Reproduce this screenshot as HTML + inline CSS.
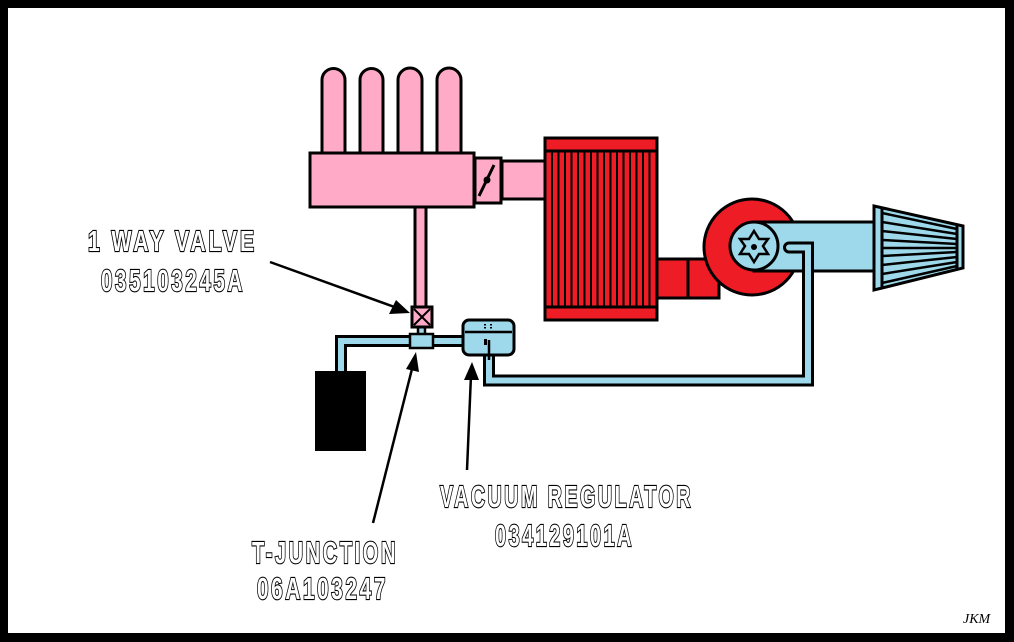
<!DOCTYPE html>
<html><head><meta charset="utf-8"><style>
html,body{margin:0;padding:0;background:#000;}
svg{display:block;}
text{font-family:"Liberation Sans",sans-serif;font-weight:bold;fill:#fff;stroke:#000;stroke-width:2.2;paint-order:stroke;letter-spacing:4px;}
</style></head><body>
<svg width="1014" height="642" viewBox="0 0 1014 642" xmlns="http://www.w3.org/2000/svg">
<rect x="0" y="0" width="1014" height="642" fill="#000"/>
<rect x="8" y="8" width="997" height="625" fill="#fff"/>
<g stroke="#000" stroke-width="3">
<path d="M322,153 V80 a11.5,11.5 0 0 1 23,0 V153 Z" fill="#ffabc8"/>
<path d="M360,153 V80 a11.5,11.5 0 0 1 23,0 V153 Z" fill="#ffabc8"/>
<path d="M398,153 V80 a12,12 0 0 1 24,0 V153 Z" fill="#ffabc8"/>
<path d="M437,153 V80 a12,12 0 0 1 24,0 V153 Z" fill="#ffabc8"/>
<rect x="310" y="153" width="164" height="54" fill="#ffabc8"/>
<rect x="475" y="158" width="26" height="45" fill="#ffabc8"/>
<rect x="502" y="161" width="43" height="38" fill="#ffabc8"/>
<rect x="415" y="207" width="11" height="100" fill="#ffabc8"/>
<rect x="657" y="259" width="62" height="39" fill="#ee1c25"/>
<line x1="688" y1="259" x2="688" y2="298"/>
<rect x="545" y="138" width="112" height="182" fill="#ee1c25"/>
<line x1="545" y1="151" x2="657" y2="151"/>
<line x1="545" y1="307" x2="657" y2="307"/>
</g>
<g fill="#000">
<rect x="551" y="151" width="2" height="156"/><rect x="557.5" y="151" width="2" height="156"/><rect x="564" y="151" width="2" height="156"/><rect x="570.5" y="151" width="2" height="156"/><rect x="577" y="151" width="2" height="156"/><rect x="583.5" y="151" width="2" height="156"/><rect x="590" y="151" width="2" height="156"/><rect x="596.5" y="151" width="2" height="156"/><rect x="603" y="151" width="2" height="156"/><rect x="609.5" y="151" width="2" height="156"/><rect x="616" y="151" width="2" height="156"/><rect x="622.5" y="151" width="2" height="156"/><rect x="629" y="151" width="2" height="156"/><rect x="635.5" y="151" width="2" height="156"/><rect x="642" y="151" width="2" height="156"/><rect x="648.5" y="151" width="2" height="156"/>
</g>
<line x1="479" y1="196" x2="494" y2="165" stroke="#000" stroke-width="3"/>
<circle cx="487" cy="180" r="3.5" fill="#000"/>
<g stroke="#000" stroke-width="3">
<circle cx="752" cy="247" r="48" fill="#ee1c25"/>
<path d="M754,222 H875 V271 H754 Z" fill="#9dd9ea"/>
<circle cx="754" cy="246" r="24" fill="#9dd9ea"/>
<path d="M874,206 L963,226 V268 L874,290 Z" fill="#9dd9ea"/>
<line x1="882" y1="208" x2="882" y2="288"/>
<line x1="957" y1="225" x2="957" y2="270"/>
</g>
<g stroke="#000" stroke-width="2.5">
<line x1="882" y1="213" x2="957" y2="229"/><line x1="882" y1="222" x2="957" y2="234"/><line x1="882" y1="231" x2="957" y2="239"/><line x1="882" y1="240" x2="957" y2="244"/><line x1="882" y1="248" x2="957" y2="248"/><line x1="882" y1="256" x2="957" y2="252"/><line x1="882" y1="265" x2="957" y2="257"/><line x1="882" y1="274" x2="957" y2="262"/><line x1="882" y1="283" x2="957" y2="266"/>
</g>
<polygon points="754,231 759,239 768,239 763,246 768,254 759,254 754,262 749,254 740,254 745,246 740,239 749,239" fill="#9dd9ea" stroke="#000" stroke-width="2.5"/>
<circle cx="754" cy="247" r="3" fill="#000"/>
<path d="M789,247.5 H808 V380.5 H489 V345" fill="none" stroke="#000" stroke-width="12" stroke-linecap="round"/>
<path d="M789,247.5 H808 V380.5 H489 V345" fill="none" stroke="#9dd9ea" stroke-width="6" stroke-linecap="round"/>
<path d="M341,372 V341 H470" fill="none" stroke="#000" stroke-width="12"/>
<path d="M341,373 V341 H470" fill="none" stroke="#9dd9ea" stroke-width="6"/>
<rect x="418" y="326" width="7" height="10" fill="#9dd9ea" stroke="#000" stroke-width="2.5"/>
<rect x="410" y="334" width="23" height="14" fill="#9dd9ea" stroke="#000" stroke-width="2.5"/>
<rect x="412" y="307" width="20" height="20" fill="#ffabc8" stroke="#000" stroke-width="3"/>
<path d="M414,309 L430,325 M430,309 L414,325" stroke="#000" stroke-width="2"/>
<rect x="463" y="320" width="51" height="35" rx="6" fill="#9dd9ea" stroke="#000" stroke-width="3"/>
<line x1="465" y1="332" x2="512" y2="332" stroke="#000" stroke-width="2.5"/>
<path d="M485,324 V330 M491,324 V330" stroke="#000" stroke-width="2" stroke-dasharray="1.5,1.5"/>
<rect x="484" y="339" width="3" height="6" fill="#000"/>
<path d="M489,340 V360" stroke="#000" stroke-width="2.5"/>
<rect x="315" y="371" width="51" height="80" fill="#000"/>
<g stroke="#000" stroke-width="2.5" fill="none">
<line x1="270" y1="262" x2="400" y2="309"/>
<line x1="373" y1="523" x2="413" y2="365"/>
<line x1="467" y1="470" x2="471" y2="375"/>
</g>
<g fill="#000">
<polygon points="410,313 389,314 396,300"/>
<polygon points="416,352 419,372 406,369"/>
<polygon points="472,362 479,380 464,380"/>
</g>
<text x="88" y="251" font-size="29" textLength="169" lengthAdjust="spacingAndGlyphs">1 WAY VALVE</text>
<text x="101" y="291" font-size="31" textLength="144" lengthAdjust="spacingAndGlyphs">035103245A</text>
<text x="440" y="507" font-size="31" textLength="253" lengthAdjust="spacingAndGlyphs">VACUUM REGULATOR</text>
<text x="495" y="546" font-size="31" textLength="139" lengthAdjust="spacingAndGlyphs">034129101A</text>
<text x="252" y="563" font-size="31" textLength="146" lengthAdjust="spacingAndGlyphs">T-JUNCTION</text>
<text x="257" y="599" font-size="31" textLength="131" lengthAdjust="spacingAndGlyphs">06A103247</text>
<text x="963" y="623" font-size="14" style="font-family:'Liberation Serif',serif;font-style:italic;font-weight:normal;fill:#000;stroke:none;letter-spacing:0">JKM</text>
</svg>
</body></html>
